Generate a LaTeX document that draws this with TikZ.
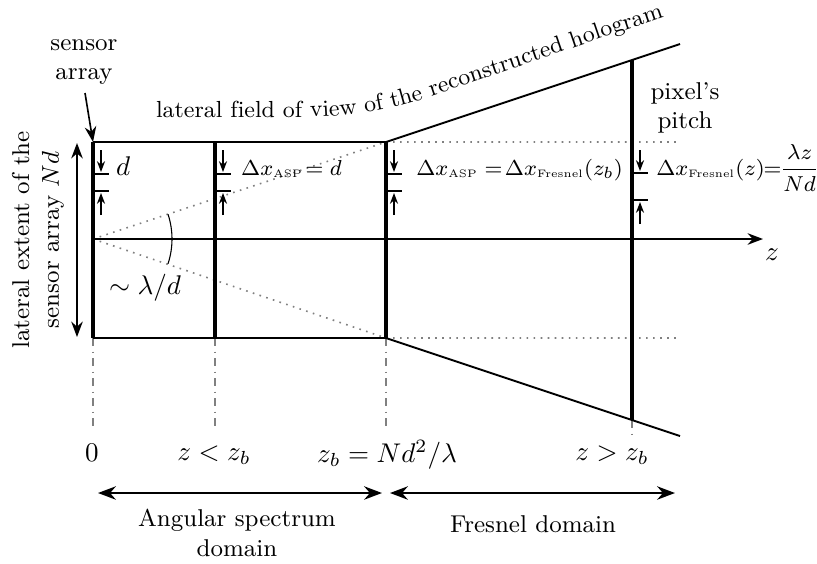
\documentclass[tikz,border=0pt]{standalone}
\usepackage{fontspec}
\usetikzlibrary{arrows.meta,decorations.text}
\newcommand{\dxs}[1]{\Delta x_{\hbox{\fontsize{4}{5}\selectfont #1}}}
\begin{document}
\begin{tikzpicture}[x=0.013cm,y=-0.013cm,>=Stealth,font=\small,
 thk/.style={line width=1.3pt},
 frm/.style={line width=0.7pt},
 dotl/.style={gray,dotted,line width=0.6pt},
 dd/.style={gray,dash dot,line width=0.4pt},
 bar/.style={line width=1.1pt},
 pit/.style={->,>={Stealth[length=4pt,width=3pt]},line width=0.5pt},
 lbl/.style={anchor=base west,inner sep=1pt,font=\fontsize{8.4}{10}\selectfont},
 txt/.style={align=center,inner sep=1pt},
 mth/.style={font=\normalsize,inner sep=1pt}]
\useasboundingbox (0,0) rectangle (817,563);
\coordinate (o) at (93,239);
\coordinate (zend) at (763,239);
\foreach \x/\n in {93/a,215/b,386/c} {
  \coordinate (\n t) at (\x,142);
  \coordinate (\n b) at (\x,338);
  \coordinate (\n d) at (\x,430);
}
\coordinate (dt) at (632,60);
\coordinate (db) at (632,420);
\coordinate (dd) at (632,434);
\coordinate (ut) at (680,44);
\coordinate (ub) at (680,436);
\coordinate (rt) at (680,142);
\coordinate (rb) at (680,338);
% guides
\draw[dotl] (o) -- (ct) (o) -- (cb) (ct) -- (rt) (cb) -- (rb);
\draw[dd] (ab) -- (ad) (bb) -- (bd) (cb) -- (cd) (db) -- (dd);
% frame and field of view
\draw[frm] (at) -- (ct) (ab) -- (cb);
\draw[frm] (ct) -- (ut) (cb) -- (ub);
\draw[->,line width=0.6pt] (o) -- (zend);
\draw[thk] (at) -- (ab) (bt) -- (bb) (ct) -- (cb) (dt) -- (db);
\draw (o) ++(-18.3:79) arc (-18.3:18.3:79);
% pixel pitch marks
\foreach \x in {93,215,386} {
  \draw[bar] (\x,174) -- ++(16,0) (\x,191) -- ++(16,0);
  \draw[pit] (\x+8,150) -- (\x+8,172);
  \draw[pit] (\x+8,215) -- (\x+8,193);
}
\draw[bar] (632,173) -- ++(16,0) (632,200) -- ++(16,0);
\draw[pit] (640,150) -- (640,171);
\draw[pit] (640,224) -- (640,202);
% labels
\node[lbl,font=\normalsize] (ld) at (113,175) {$d$};
\node[lbl] (lb) at (238,175) {$\dxs{ASP}\!= d$};
\node[lbl] (lc) at (413,175) {$\dxs{ASP} =\!\dxs{Fresnel}(z_b)$};
\node[lbl] (lr) at (653,175) {$\dxs{Fresnel}(z)\!\!=\!\!\displaystyle\frac{\lambda z}{Nd}$};
\node[mth] (zl) at (772,255) {$z$};
\node[mth] (ang) at (145,288) {$\sim\lambda/d$};
\node[txt] (sa) at (84,62) {sensor\\array};
\draw[->,line width=0.6pt] (85,93) -- (at);
\node[txt] (pp) at (685,108) {pixel’s\\pitch};
\draw[<->,line width=0.6pt] (77,143) -- (77,337);
\node[txt,rotate=90] (ext) at (38,240) {lateral extent of the\\sensor array $Nd$};
\path[decorate,decoration={text along path,text align=left,
  text={|\fontsize{8.6}{10}\selectfont|lateral field of view of the reconstructed hologram}}]
  (156,117) -- (300,117) .. controls (350,117) and (390,110) .. (420,100) -- (740,-9);
% z positions
\node[mth] (z0) at (92,453) {$0$};
\node[mth] (z1) at (214,455) {$z<z_b$};
\node[mth] (z2) at (387,455) {$z_b=Nd^2/\lambda$};
\node[mth] (z3) at (612,455) {$z>z_b$};
% domains
\coordinate (asl) at (98,493);
\coordinate (asr) at (382,493);
\coordinate (frl) at (390,493);
\coordinate (frr) at (675,493);
\draw[{Stealth}-{Stealth},line width=0.8pt] (asl) -- (asr);
\draw[{Stealth}-{Stealth},line width=0.8pt] (frl) -- (frr);
\node[txt] (asd) at (237,533) {Angular spectrum\\domain};
\node[txt] (frd) at (533,524) {Fresnel domain};
\end{tikzpicture}
\end{document}
